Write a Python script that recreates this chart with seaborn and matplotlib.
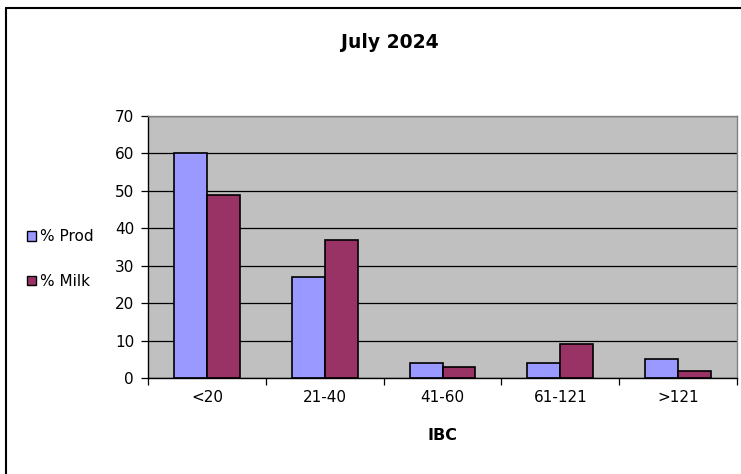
import matplotlib
matplotlib.use("Agg")
import matplotlib.pyplot as plt
import seaborn as sns
import pandas as pd
from matplotlib.lines import Line2D
from matplotlib.patches import Patch

categories = ["<20", "21-40", "41-60", "61-121", ">121"]
prod = [60, 27, 4, 4, 5]
milk = [49, 37, 3, 9, 2]
series = ["% Prod", "% Milk"]
colors = ["#9999FF", "#993366"]

df = pd.DataFrame({
    "IBC": categories * 2,
    "value": prod + milk,
    "series": [series[0]] * len(categories) + [series[1]] * len(categories),
})

sns.set_theme(style="white")
plt.rcParams["font.family"] = ["DejaVu Sans"]

fig = plt.figure(figsize=(7.41, 4.74), dpi=100)
ax = fig.add_axes([148/741, 1-378/474, (737-148)/741, (378-116)/474])
ax.set_facecolor("#C0C0C0")

sns.barplot(data=df, x="IBC", y="value", hue="series", palette=colors,
            width=0.56, edgecolor="black", linewidth=1.2, ax=ax, legend=False,
            saturation=1)

ax.set_ylim(0, 70)
ax.set_xlim(-0.5, len(categories) - 0.5)
ax.set_yticks(range(0, 71, 10))
ax.yaxis.grid(True, color="black", linewidth=0.9)
ax.set_axisbelow(True)
ax.tick_params(axis="y", length=5, width=0.9, color="black", labelsize=11, pad=5,
               left=True, labelcolor="black")
ax.tick_params(axis="x", length=0, labelsize=11, pad=9, labelcolor="black")
ax.set_xticks(range(len(categories)), categories)
ax.set_xticks([i - 0.5 for i in range(len(categories) + 1)], minor=True)
ax.tick_params(axis="x", which="minor", length=5, width=0.9, color="black", bottom=True)
for s in ["top", "right"]:
    ax.spines[s].set_color("#808080")
    ax.spines[s].set_linewidth(1)
for s in ["left", "bottom"]:
    ax.spines[s].set_color("black")
    ax.spines[s].set_linewidth(1)
ax.set_ylabel("")
ax.set_xlabel("IBC", fontsize=11.5, fontweight="bold", labelpad=16, color="black")

fig.text(390/741, 1-43/474, "July 2024", ha="center", va="center",
         fontsize=13.5, fontweight="bold", color="black")

handles = [Patch(facecolor=c, edgecolor="black", linewidth=1) for c in colors]
fig.legend(handles, series, loc="center left", bbox_to_anchor=(13/741, 1-259/474),
           frameon=False, fontsize=11, handlelength=0.6, handleheight=0.6,
           handletextpad=0.3, labelspacing=1.95, labelcolor="black")

fig.add_artist(Line2D([6/741, 6/741], [0, 1-8/474], color="black", linewidth=1.5,
                      transform=fig.transFigure))
fig.add_artist(Line2D([6/741, 1], [1-8/474, 1-8/474], color="black", linewidth=1.5,
                      transform=fig.transFigure))

fig.savefig("out.png", dpi=100, facecolor="white")
